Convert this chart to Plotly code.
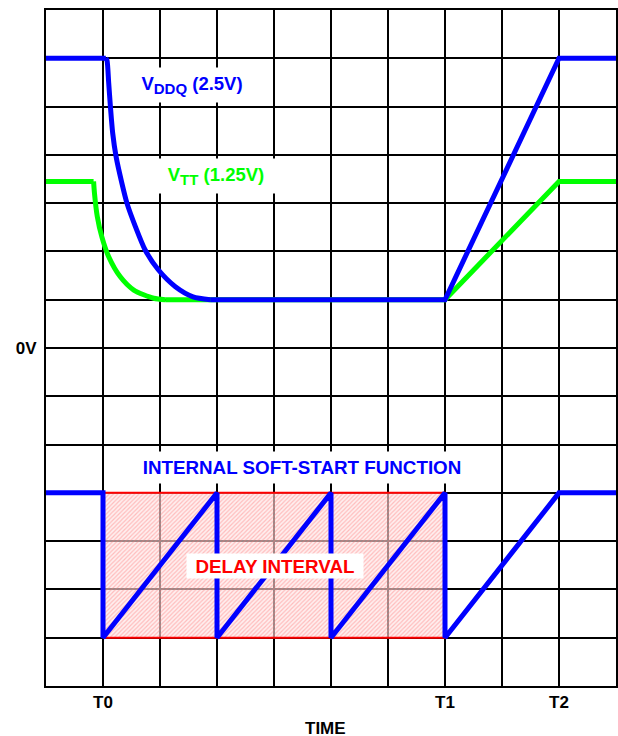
import plotly.graph_objects as go

# ---- data (grid units: 10 columns x 14 rows) ----
vddq_x = [0, 1.05, 1.07, 1.10, 1.13, 1.17, 1.23, 1.33, 1.42, 1.57, 1.74, 1.97, 2.27, 2.58, 2.88, 7, 9, 10]
vddq_y = [13, 13, 12.96, 12.49, 12.0, 11.45, 10.96, 10.42, 10.0, 9.51, 9.03, 8.62, 8.27, 8.06, 8.0, 8, 13, 13]

vtt_x = [0, 0.835, 0.85, 0.90, 0.98, 1.10, 1.30, 1.54, 1.89, 2.09, 7, 9, 10]
vtt_y = [10.45, 10.45, 10.21, 9.72, 9.30, 8.89, 8.48, 8.20, 8.03, 8.0, 8, 10.45, 10.45]

ss_x = [0, 1, 1, 3, 3, 5, 5, 7, 7, 9, 10]
ss_y = [4, 4, 1, 4, 1, 4, 1, 4, 1, 4, 4]

delay_x = [1, 7, 7, 1, 1]
delay_y = [1, 1, 4, 4, 1]

x_tick_vals = [1, 7, 9]
x_tick_text = ["T0", "T1", "T2"]
y_tick_vals = [7]
y_tick_text = ["0V"]
x_title = "TIME"

BLUE = "#0000ff"
GREEN = "#00ff00"
RED = "#ff0000"
FONT = "Liberation Sans, Arial, sans-serif"

fig = go.Figure()

fig.add_trace(go.Scatter(
    x=delay_x, y=delay_y, mode="lines", fill="toself",
    line=dict(color=RED, width=2),
    fillcolor="rgba(255,190,190,0.4)",
    fillpattern=dict(shape="/", fgcolor="rgba(255,110,110,0.8)",
                     bgcolor="rgba(255,228,228,0.6)", size=3, solidity=0.4),
    hoverinfo="skip", showlegend=False))

def piece(xs, ys, color, width, spline=False):
    fig.add_trace(go.Scatter(x=xs, y=ys, mode="lines",
                             line=dict(color=color, width=width,
                                       shape="spline" if spline else "linear",
                                       smoothing=0.7 if spline else None),
                             hoverinfo="skip", showlegend=False))

# VTT: flat, curved decay, flat + ramp
piece(vtt_x[:2], vtt_y[:2], GREEN, 5)
piece(vtt_x[1:10], vtt_y[1:10], GREEN, 5, spline=True)
piece(vtt_x[9:], vtt_y[9:], GREEN, 5)
# VDDQ
piece(vddq_x[:2], vddq_y[:2], BLUE, 5)
piece(vddq_x[1:15], vddq_y[1:15], BLUE, 5, spline=True)
piece(vddq_x[14:], vddq_y[14:], BLUE, 5)
# internal soft-start
piece(ss_x, ss_y, BLUE, 5)

def label(text, x, y, color, size, w=None, h=None):
    fig.add_annotation(x=x, y=y, xref="x", yref="y", text=text, showarrow=False,
                       font=dict(family=FONT, size=size, color=color, weight="bold"),
                       bgcolor="white", borderpad=1, width=w, height=h,
                       xanchor="center", yanchor="middle")

label("V<sub><span style='font-size:15px'>DDQ</span></sub> (2.5V)", 2.57, 12.45, BLUE, 18.5, w=114, h=32)
label("V<sub><span style='font-size:15px'>TT</span></sub> (1.25V)", 2.98, 10.56, GREEN, 18.5, w=124, h=32)
label("INTERNAL SOFT-START FUNCTION", 4.485, 4.535, BLUE, 18.8, w=334, h=29)
label("DELAY INTERVAL", 4.02, 2.485, RED, 18.8, w=174, h=22)

axis_font = dict(family=FONT, size=17, color="black", weight="bold")

fig.add_annotation(x=0.49, y=0, xref="paper", yref="paper", yshift=-42,
                   text=x_title, showarrow=False, font=axis_font, borderpad=0,
                   xanchor="center", yanchor="middle")

fig.update_xaxes(range=[0, 10], tickvals=x_tick_vals, ticktext=x_tick_text,
                 showgrid=True, gridcolor="black", gridwidth=2,
                 minor=dict(dtick=1, tick0=0, showgrid=True, gridcolor="black", gridwidth=2),
                 showline=True, mirror=True, linecolor="black", linewidth=2,
                 zeroline=False, ticks="", tickfont=axis_font, automargin=False)
fig.update_yaxes(range=[0, 14], tickvals=y_tick_vals, ticktext=y_tick_text,
                 showgrid=True, gridcolor="black", gridwidth=2,
                 minor=dict(dtick=1, tick0=0, showgrid=True, gridcolor="black", gridwidth=2),
                 showline=True, mirror=True, linecolor="black", linewidth=2,
                 zeroline=False, ticks="", tickfont=axis_font, automargin=False,
                 ticklabelstandoff=4)

fig.update_layout(width=618, height=736, margin=dict(l=46, r=2, t=10, b=50),
                  plot_bgcolor="white", paper_bgcolor="white", showlegend=False)

fig.write_html("out.html", config={"displayModeBar": False},
               post_script="document.body.style.margin='0';document.body.style.overflow='hidden';")
